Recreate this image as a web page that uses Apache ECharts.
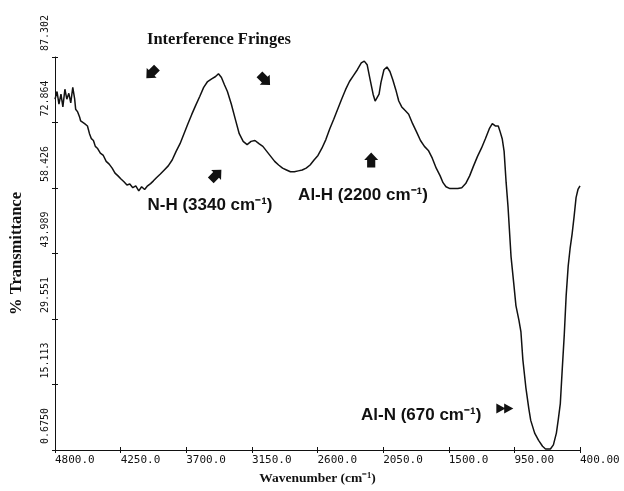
<!DOCTYPE html>
<html>

<head>
  <meta charset="utf-8">
  <title></title>
  <script src="https://cdn.jsdelivr.net/npm/echarts@6/dist/echarts.min.js" charset="utf-8"></script>
  <style media="screen">
    html, body {
      margin: 0;
      padding: 0;
      background: #fff;
    }
  </style>
</head>

<body>
  <div id="main" style="width:624px;height:491px;"></div>

  <script type="text/javascript">
    // spectrum
    var wavenumber = [4800, 4783, 4767, 4750, 4734, 4717, 4701, 4684, 4668, 4651, 4635, 4627, 4610, 4594, 4585, 4569,
      4552, 4528, 4511, 4495, 4478, 4462, 4445, 4420, 4395, 4371, 4346, 4321, 4297, 4272, 4247, 4222, 4197, 4173,
      4148, 4123, 4098, 4074, 4049, 4024, 3999, 3975, 3950, 3917, 3884, 3851, 3818, 3785, 3752, 3719, 3686, 3653,
      3620, 3587, 3554, 3521, 3487, 3454, 3430, 3405, 3380, 3355, 3322, 3289, 3256, 3223, 3190, 3157, 3124, 3091,
      3058, 3025, 2992, 2959, 2926, 2893, 2860, 2827, 2794, 2761, 2728, 2695, 2662, 2629, 2596, 2563, 2530, 2497,
      2464, 2431, 2398, 2365, 2332, 2299, 2266, 2233, 2208, 2184, 2159, 2134, 2117, 2101, 2084, 2068, 2043, 2018,
      1993, 1969, 1944, 1919, 1894, 1869, 1836, 1803, 1770, 1737, 1704, 1671, 1638, 1605, 1572, 1548, 1523, 1490,
      1457, 1424, 1391, 1358, 1325, 1292, 1259, 1226, 1193, 1160, 1135, 1110, 1085, 1069, 1052, 1036, 1019, 1003,
      978, 953, 937, 912, 895, 879, 854, 829, 813, 780, 747, 714, 689, 673, 648, 623, 598, 581, 565, 549, 532, 516,
      499, 483, 466, 450, 433, 417, 400];
    var transmittance = [78.0, 79.7, 76.9, 79.1, 76.3, 80.2, 78.0, 79.3, 77.2, 80.6, 78.0, 75.8, 75.2, 74.1, 73.2, 73.6,
      72.6, 72.1, 70.4, 69.3, 68.9, 67.6, 67.2, 66.1, 65.6, 64.3, 63.7, 62.8, 61.7, 61.1, 60.4, 59.8, 59.1, 59.3,
      58.5, 58.9, 57.8, 58.7, 58.1, 58.9, 59.4, 60.0, 60.7, 61.5, 62.4, 63.3, 64.6, 66.5, 68.2, 70.4, 72.6, 74.7,
      76.7, 78.6, 80.6, 81.9, 82.5, 83.0, 83.6, 82.8, 81.2, 79.7, 76.9, 73.6, 70.4, 68.7, 68.0, 68.7, 68.9, 68.2,
      67.6, 66.5, 65.4, 64.3, 63.5, 62.8, 62.4, 62.0, 62.0, 62.2, 62.4, 62.8, 63.5, 64.6, 65.6, 67.2, 69.1, 71.5,
      73.6, 75.8, 78.0, 80.1, 81.9, 83.2, 84.5, 86.0, 86.4, 85.6, 82.3, 79.1, 77.6, 77.3, 79.1, 81.7, 84.5, 85.1,
      84.1, 82.3, 80.1, 77.6, 76.3, 75.6, 74.7, 72.6, 70.8, 68.9, 67.6, 66.7, 65.0, 62.8, 61.1, 59.6, 58.7, 58.3,
      58.3, 58.3, 58.5, 59.4, 61.1, 63.3, 65.4, 67.2, 69.3, 71.5, 72.6, 72.1, 72.1, 70.8, 69.3, 66.5, 59.6, 54.2,
      43.3, 36.8, 32.5, 29.3, 26.7, 20.6, 14.5, 9.8, 7.2, 4.4, 2.8, 1.5, 0.9, 0.7, 0.9, 1.8, 4.4, 7.6, 10.9, 18.4,
      26.0, 34.7, 41.2, 45.1, 48.3, 52.0, 56.3, 58.1, 58.9];

    var xTickLabels = ['400.00', '950.00', '1500.0', '2050.0', '2600.0', '3150.0', '3700.0', '4250.0', '4800.0'];
    var yTickLabels = ['0.6750', '15.113', '29.551', '43.989', '58.426', '72.864', '87.302'];

    // annotation markers: [wavenumber, %T, rotation]
    var fringeMarks = [[3990, 83.8, 225], [3042, 82.3, 315]];
    var bandMarks = [[3450, 61.3, 45], [2150, 64.6, 90]];
    var alnMark = [1030, 9.8];

    var xMin = 400, xMax = 4800, xStep = 550;
    var yMin = 0.675, yMax = 87.302, yStep = 14.43784;

    var data = wavenumber.map(function(w, i) {
      return [w, transmittance[i]];
    });

    var arrowPath = 'path://M0,2.5 L6,2.5 L6,0 L12,6 L6,12 L6,9.5 L0,9.5 Z';
    var dblArrow = 'path://M0,0 L7,5 L0,10 Z M6,0 L13,5 L6,10 Z';

    var marks = [];
    fringeMarks.concat(bandMarks).forEach(function(m) {
      marks.push({
        coord: [m[0], m[1]],
        symbol: arrowPath,
        symbolSize: [15, 14],
        symbolRotate: m[2]
      });
    });
    marks.push({
      coord: alnMark,
      symbol: dblArrow,
      symbolSize: [17, 10],
      symbolRotate: 0
    });

    var monoFont = '"DejaVu Sans Mono", monospace';

    function xAxisCfg(inside) {
      return {
        type: 'value',
        position: 'bottom',
        inverse: true,
        min: xMin,
        max: xMax,
        interval: xStep,
        splitLine: { show: false },
        axisLine: { show: !inside, lineStyle: { color: '#111', width: 1 } },
        axisTick: { show: true, inside: inside, length: 3, lineStyle: { color: '#111' } },
        axisLabel: {
          show: !inside,
          showMinLabel: true,
          showMaxLabel: true,
          align: 'left',
          margin: 5,
          fontFamily: monoFont,
          fontSize: 11,
          color: '#111',
          formatter: function(v) {
            return xTickLabels[Math.round((v - xMin) / xStep)];
          }
        },
        name: inside ? '' : 'Wavenumber (cm⁻¹)',
        nameLocation: 'middle',
        nameGap: 22,
        nameTextStyle: {
          fontFamily: '"Liberation Serif", serif',
          fontWeight: 'bold',
          fontSize: 13.5,
          color: '#111'
        }
      };
    }

    function yAxisCfg(inside) {
      return {
        type: 'value',
        position: 'left',
        min: yMin,
        max: yMax,
        interval: yStep,
        splitLine: { show: false },
        axisLine: { show: !inside, lineStyle: { color: '#111', width: 1 } },
        axisTick: { show: true, inside: inside, length: 3, lineStyle: { color: '#111' } },
        axisLabel: {
          show: !inside,
          showMinLabel: true,
          showMaxLabel: true,
          rotate: 90,
          align: 'left',
          padding: [0, 0, 0, 6],
          margin: 5,
          fontFamily: monoFont,
          fontSize: 10,
          color: '#111',
          formatter: function(v) {
            return yTickLabels[Math.round((v - yMin) / yStep)];
          }
        },
        name: inside ? '' : '% Transmittance',
        nameLocation: 'middle',
        nameGap: 30,
        nameTextStyle: {
          fontFamily: '"Liberation Serif", serif',
          fontWeight: 'bold',
          fontSize: 16.5,
          color: '#111'
        }
      };
    }

    var sansBold = 'bold 17px "Liberation Sans", Arial, sans-serif';

    var myChart = echarts.init(document.getElementById('main'), null, { renderer: 'canvas' });
    var option = {
      backgroundColor: '#fff',
      animation: false,
      grid: { left: 47, right: 44, top: 57, bottom: 34 },
      xAxis: [xAxisCfg(false), xAxisCfg(true)],
      yAxis: [yAxisCfg(false), yAxisCfg(true)],
      graphic: [{
        type: 'text',
        x: 147, y: 40,
        style: {
          text: 'Interference Fringes',
          font: 'bold 16.5px "Liberation Serif", serif',
          fill: '#111',
          verticalAlign: 'middle'
        }
      }, {
        type: 'text',
        x: 210, y: 205,
        style: {
          text: 'N-H (3340 cm⁻¹)',
          font: sansBold,
          fill: '#111',
          align: 'center',
          verticalAlign: 'middle'
        }
      }, {
        type: 'text',
        x: 363, y: 195,
        style: {
          text: 'Al-H (2200 cm⁻¹)',
          font: sansBold,
          fill: '#111',
          align: 'center',
          verticalAlign: 'middle'
        }
      }, {
        type: 'text',
        x: 361, y: 415,
        style: {
          text: 'Al-N (670 cm⁻¹)',
          font: sansBold,
          fill: '#111',
          verticalAlign: 'middle'
        }
      }],
      series: [{
        type: 'line',
        xAxisIndex: 0,
        yAxisIndex: 0,
        data: data,
        showSymbol: false,
        smooth: false,
        lineStyle: { color: '#111', width: 1.5 },
        markPoint: {
          silent: true,
          label: { show: false },
          itemStyle: { color: '#111' },
          data: marks
        }
      }]
    };
    myChart.setOption(option);
  </script>
</body>

</html>
